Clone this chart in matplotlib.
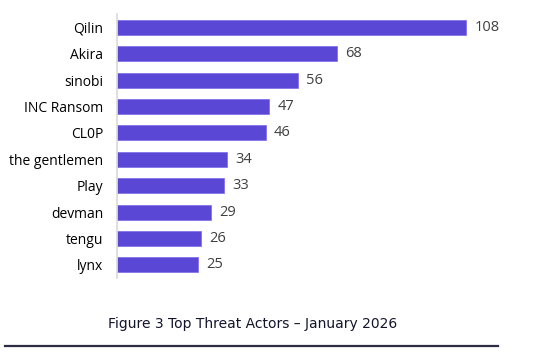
import matplotlib
matplotlib.use('Agg')
import matplotlib.pyplot as plt
from matplotlib.lines import Line2D

# data
actors = ['Qilin', 'Akira', 'sinobi', 'INC Ransom', 'CL0P', 'the gentlemen',
          'Play', 'devman', 'tengu', 'lynx']
counts = [108, 68, 56, 47, 46, 34, 33, 29, 26, 25]
caption = 'Figure 3 Top Threat Actors \u2013 January 2026'

bar_color = '#5B47D6'
text_color = '#404040'

fig = plt.figure(figsize=(5.44, 3.56), dpi=100)
ax = fig.add_axes([0.215, 0.219, 0.773, 0.7416])

ypos = list(range(len(actors)))
ax.barh(ypos, counts, height=0.57, color=bar_color, edgecolor='#7B6BE6', linewidth=0.5)
ax.set_ylim(len(actors) - 0.5, -0.5)
ax.set_xlim(0, 130)

ax.set_yticks(ypos)
ax.set_yticklabels(actors, fontsize=10, color='black', family='Open Sans')
ax.tick_params(axis='y', length=0, pad=10)
ax.set_xticks([])

for s in ['top', 'right', 'bottom']:
    ax.spines[s].set_visible(False)
ax.spines['left'].set_color('#D9D9D9')
ax.spines['left'].set_linewidth(1.2)

for y, v in zip(ypos, counts):
    ax.annotate(str(v), (v, y), xytext=(6, 0), textcoords='offset points',
                va='center', ha='left', fontsize=10.5, color=text_color,
                family='Open Sans')

fig.text(0.465, 0.09, caption, ha='center', va='center', fontsize=10,
         color='#14142B', family='DejaVu Sans')
fig.add_artist(Line2D([0.009, 0.916], [0.028, 0.028], color='#2B2D42',
                      linewidth=1.6, transform=fig.transFigure))

fig.savefig('out.png', dpi=100)
